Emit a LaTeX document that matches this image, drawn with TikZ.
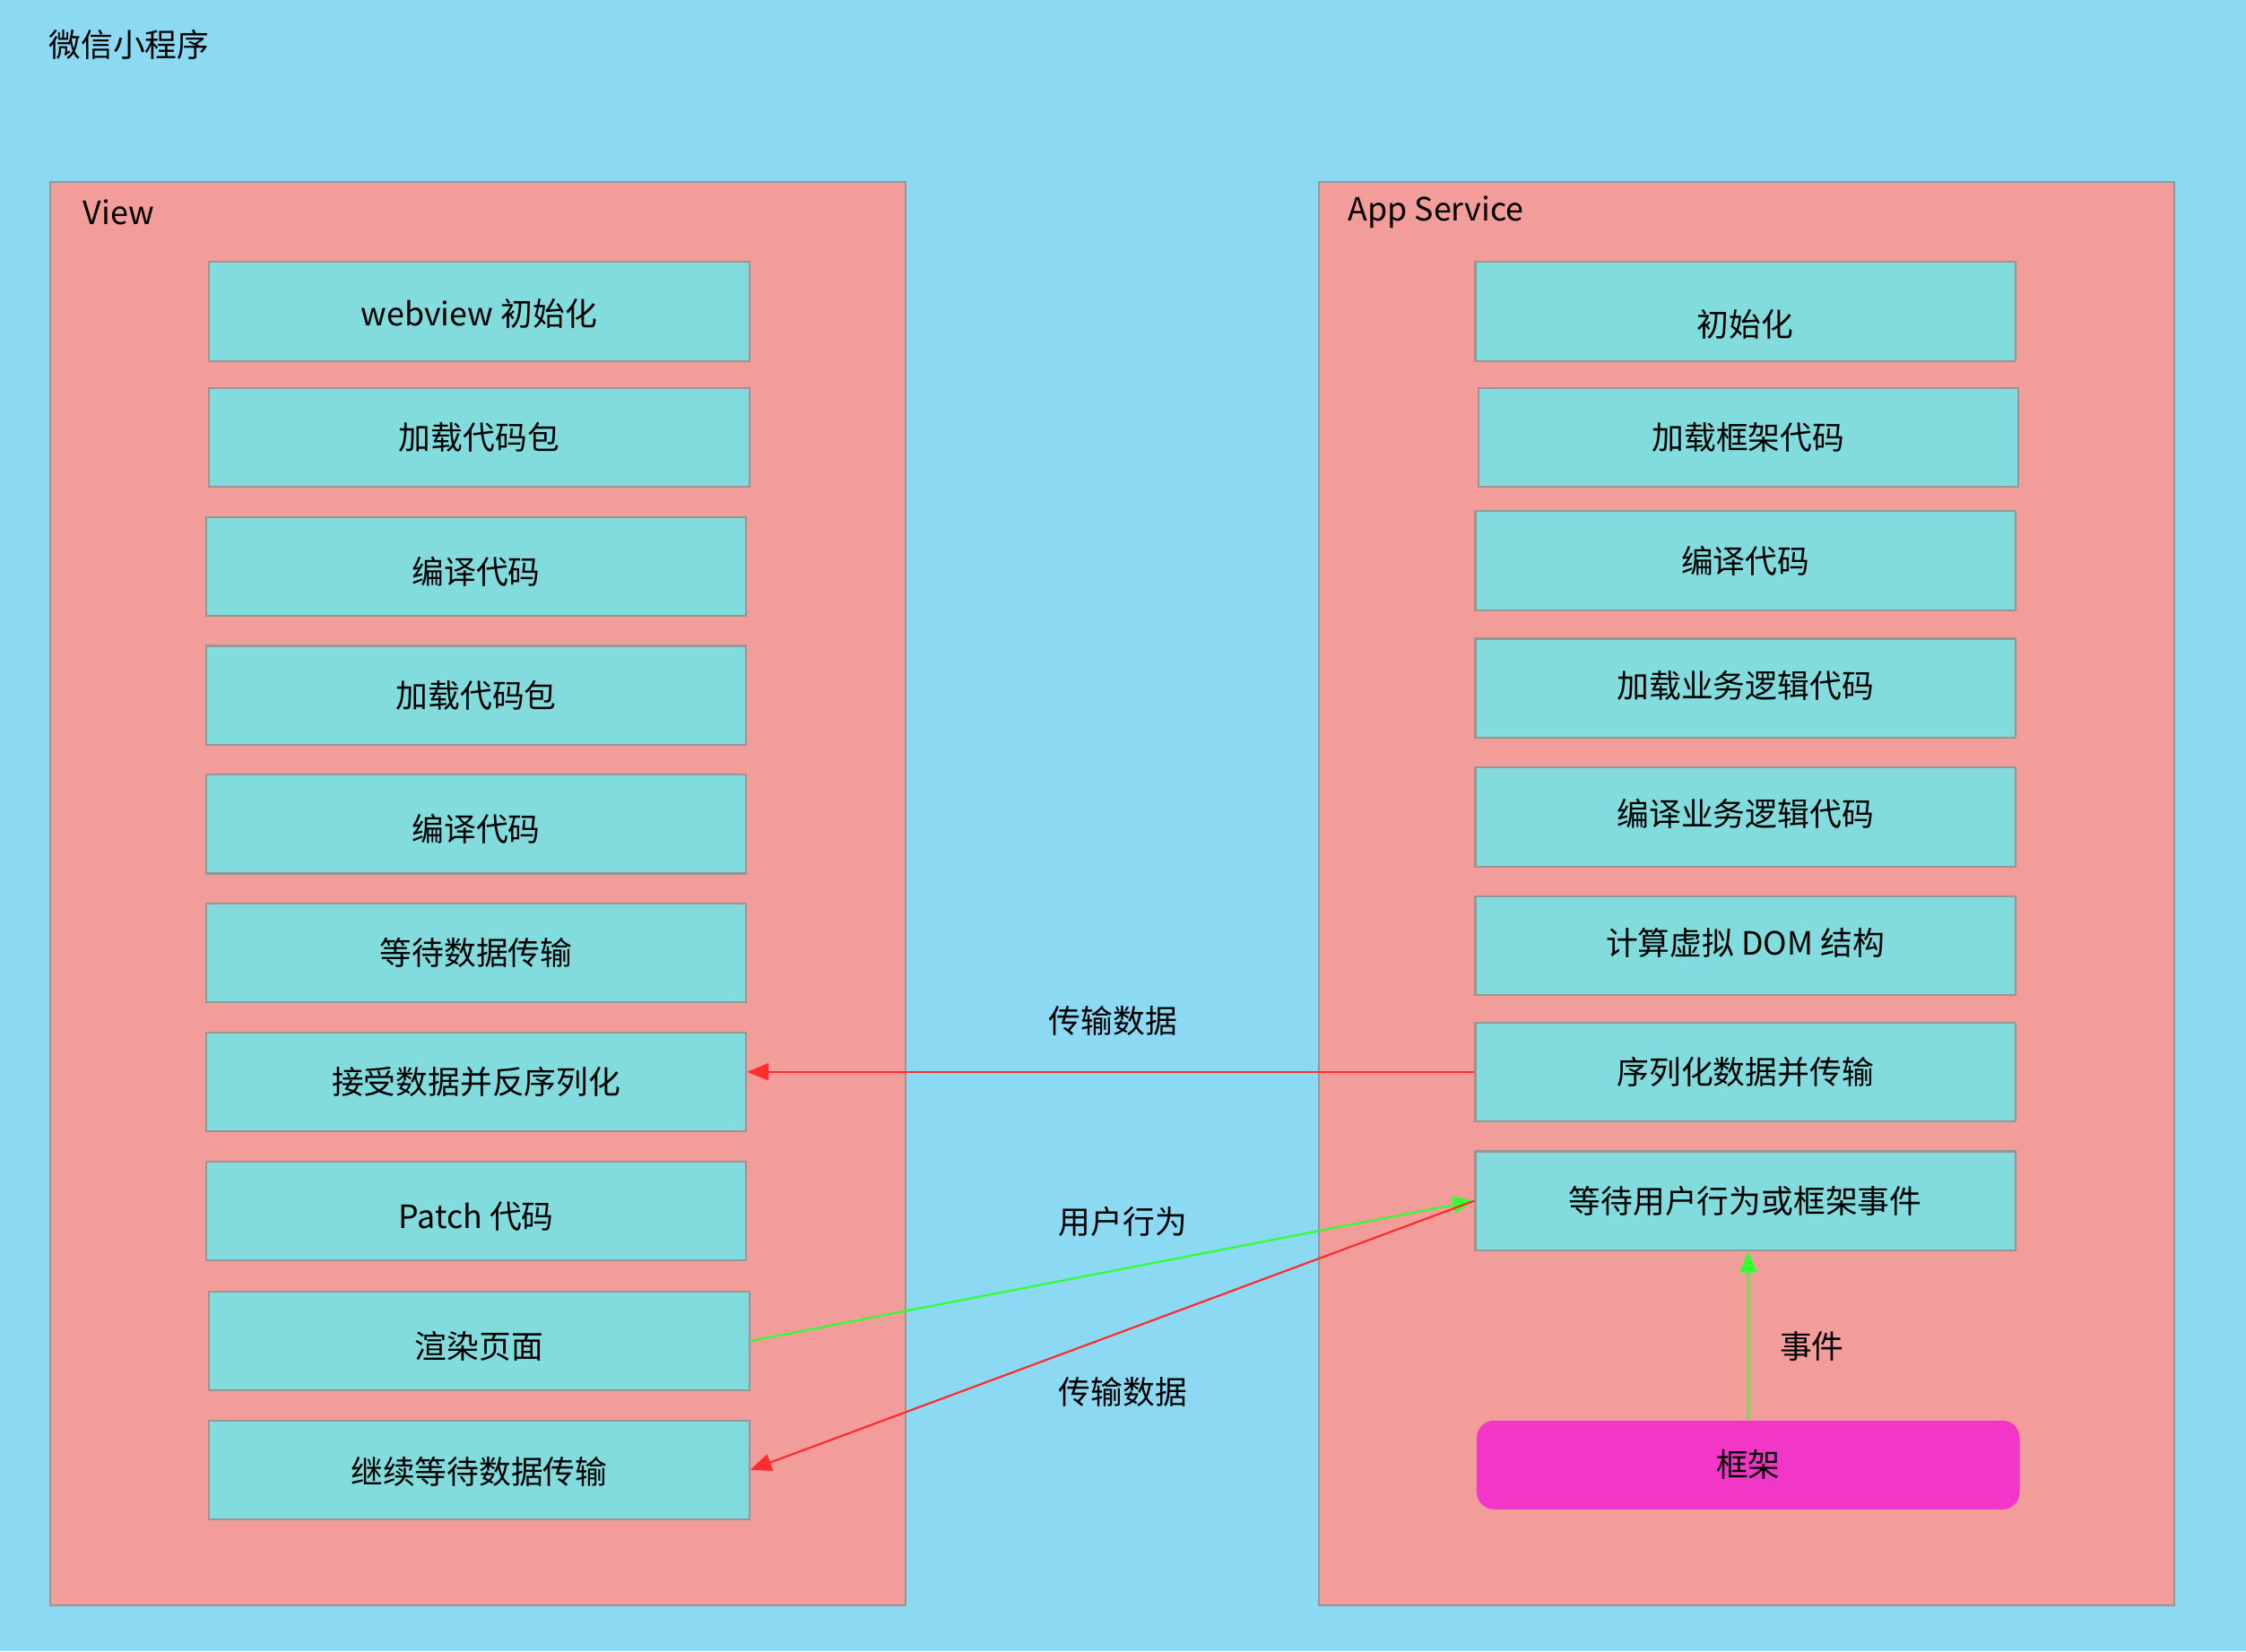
\documentclass[tikz,border=0pt]{standalone}
\usepackage{fontspec}
\setmainfont{Noto Sans CJK SC}
\usetikzlibrary{arrows.meta}
\definecolor{bgblue}{RGB}{139,217,243}
\definecolor{cpink}{RGB}{243,157,155}
\definecolor{boxteal}{RGB}{130,220,221}
\definecolor{edgegrey}{RGB}{150,150,150}
\definecolor{magframe}{RGB}{241,54,200}
\definecolor{arrred}{RGB}{255,45,45}
\definecolor{arrgreen}{RGB}{50,255,50}
\newcommand\lowtext[2]{\raisebox{-#1}[\height][\depth]{#2}}
\tikzset{
  container/.style={draw=edgegrey, fill=cpink, line width=1.3pt, minimum width=597pt, minimum height=994pt, inner sep=0pt},
  stepbox/.style={draw=edgegrey, fill=boxteal, line width=1.3pt, minimum width=377pt, minimum height=69pt, inner sep=0pt, font=\fontsize{22.4}{26}\selectfont},
  framebox/.style={fill=magframe, rounded corners=12pt, minimum width=379pt, minimum height=62pt, inner sep=0pt, font=\fontsize{22.4}{26}\selectfont},
  lbl/.style={font=\fontsize{22.4}{26}\selectfont, inner sep=0pt},
  redarr/.style={draw=arrred, line width=1.4pt, -{Triangle[length=15pt,width=12pt]}},
  greenarr/.style={draw=arrgreen, line width=1.4pt, -{Triangle[length=15pt,width=12pt]}}
}
\begin{document}
\begin{tikzpicture}[x=1pt,y=-1pt]
\fill[bgblue] (0,0) rectangle (1568,1153);
\useasboundingbox (0,0) rectangle (1568,1153);

\node[lbl, anchor=west] (title) at (34,31) {微信小程序};

\node[container] (view) at (333.5,624) {};
\node[container] (svc) at (1219.5,624) {};
\node[lbl, anchor=west] (viewlbl) at (58,148) {View};
\node[lbl, anchor=west] (svclbl) at (941,148) {App Service};

% left column
\node[stepbox] (v1) at (334.5,217.5) {\lowtext{1.5pt}{webview 初始化}};
\node[stepbox] (v2) at (334.5,305.5) {加载代码包};
\node[stepbox] (v3) at (332.5,395.5) {\lowtext{3.5pt}{编译代码}};
\node[stepbox] (v4) at (332.5,485.5) {加载代码包};
\node[stepbox] (v5) at (332.5,575.5) {\lowtext{3.5pt}{编译代码}};
\node[stepbox] (v6) at (332.5,665.5) {等待数据传输};
\node[stepbox] (recv) at (332.5,755.5) {接受数据并反序列化};
\node[stepbox] (patch) at (332.5,845.5) {\lowtext{4pt}{Patch 代码}};
\node[stepbox] (render) at (334.5,936.5) {\lowtext{3.5pt}{渲染页面}};
\node[stepbox] (cont) at (334.5,1026.5) {\lowtext{1.5pt}{继续等待数据传输}};

% right column
\node[stepbox] (s1) at (1218.5,217.5) {\lowtext{9pt}{初始化}};
\node[stepbox] (s2) at (1220.5,305.5) {加载框架代码};
\node[stepbox] (s3) at (1218.5,391.5) {编译代码};
\node[stepbox] (s4) at (1218.5,480.5) {\lowtext{-2pt}{加载业务逻辑代码}};
\node[stepbox] (s5) at (1218.5,570.5) {\lowtext{-2pt}{编译业务逻辑代码}};
\node[stepbox] (s6) at (1218.5,660.5) {\lowtext{-2pt}{计算虚拟 DOM 结构}};
\node[stepbox] (ser) at (1218.5,748.5) {序列化数据并传输};
\node[stepbox] (wait) at (1218.5,838.5) {等待用户行为或框架事件};
\node[framebox] (frame) at (1220.5,1023) {框架};

% connectors
\draw[redarr] (ser.west) -- (recv.east |- ser.west);
\draw[greenarr] (render.east) -- (wait.west);
\draw[redarr] (wait.west) -- (cont.east);
\draw[greenarr] (frame.north) -- (frame.north |- wait.south);

% labels
\node[lbl] (l1) at (777,713) {传输数据};
\node[lbl] (l2) at (784,853) {用户行为};
\node[lbl] (l3) at (784,972) {传输数据};
\node[lbl] (l4) at (1265,940) {事件};
\end{tikzpicture}
\end{document}
